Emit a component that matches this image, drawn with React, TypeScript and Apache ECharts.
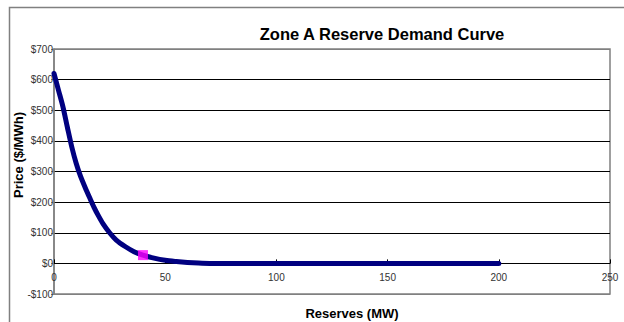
import React, { useEffect, useRef } from "react";
import * as echarts from "echarts";

const chartTitle = "Zone A Reserve Demand Curve";
const xAxisTitle = "Reserves (MW)";
const yAxisTitle = "Price ($/MWh)";

const reserves = [0, 2, 4, 6, 8, 10, 12, 14, 16, 18, 20, 22, 25, 28, 32, 36, 40, 45, 50, 55, 60, 65, 70, 80, 100, 150, 200];
const prices = [620, 566, 512, 445, 380, 326, 283, 248, 215, 183, 155, 130, 100, 76, 55, 38, 27, 17, 10, 6, 3, 1, 0, 0, 0, 0, 0];

const markerReserves = [40];
const markerPrices = [27];

const xMin = 0;
const xMax = 250;
const xStep = 50;
const yMin = -100;
const yMax = 700;
const yStep = 100;

const FONT = "'Liberation Sans', Arial, sans-serif";

// plot area in pixels
const PLOT = { left: 54, right: 14, top: 49, bottom: 28 };
const CHART_H = 322;

export default function App() {
  const ref = useRef<HTMLDivElement>(null);

  useEffect(() => {
    if (!ref.current) return;
    const chart = echarts.init(ref.current, undefined, { renderer: "svg" });
    const curve = reserves.map((r, i) => [r, prices[i]]);
    const marker = markerReserves.map((r, i) => [r, markerPrices[i]]);
    const nLines = (yMax - yMin) / yStep + 1;
    const splitColors = Array.from({ length: nLines }, (_, i) =>
      i === 0 || i === nLines - 1 ? "#808080" : "#000000"
    );
    // second grid whose bottom edge sits on the price = 0 line, to carry the x axis there
    const plotH = CHART_H - PLOT.top - PLOT.bottom;
    const zeroFromBottom = PLOT.bottom + (plotH * (0 - yMin)) / (yMax - yMin);

    chart.setOption({
      animation: false,
      backgroundColor: "#ffffff",
      textStyle: { fontFamily: FONT },
      title: {
        text: chartTitle,
        left: 377,
        top: 20,
        textAlign: "center",
        textStyle: { fontFamily: FONT, fontSize: 16.5, fontWeight: "bold", color: "#000" },
      },
      grid: [
        {
          left: PLOT.left,
          right: PLOT.right,
          top: PLOT.top,
          bottom: PLOT.bottom,
          show: true,
          borderColor: "#808080",
          borderWidth: 1.5,
          backgroundColor: "transparent",
        },
        {
          left: PLOT.left,
          right: PLOT.right,
          top: PLOT.top,
          bottom: zeroFromBottom,
          show: false,
        },
      ],
      xAxis: [
        {
          type: "value",
          gridIndex: 0,
          min: xMin,
          max: xMax,
          interval: xStep,
          show: false,
        },
        {
          type: "value",
          gridIndex: 1,
          min: xMin,
          max: xMax,
          interval: xStep,
          position: "bottom",
          axisLine: { show: true, onZero: false, lineStyle: { color: "#000", width: 1 } },
          axisTick: { show: true, inside: true, length: 4, lineStyle: { color: "#000" } },
          axisLabel: { fontFamily: FONT, fontSize: 10, color: "#333", margin: 9 },
          splitLine: { show: false },
        },
      ],
      yAxis: [
        {
          type: "value",
          gridIndex: 0,
          min: yMin,
          max: yMax,
          interval: yStep,
          axisLine: { show: true, onZero: false, lineStyle: { color: "#808080", width: 1.5 } },
          axisTick: { show: true, length: 3, lineStyle: { color: "#808080" } },
          axisLabel: {
            fontFamily: FONT,
            fontSize: 10,
            color: "#333",
            margin: 1,
            formatter: (v: number) => (v < 0 ? "-$" + -v : "$" + v),
          },
          splitLine: { show: true, lineStyle: { color: splitColors, width: 1 } },
        },
        {
          type: "value",
          gridIndex: 1,
          min: 0,
          max: yMax,
          show: false,
        },
      ],
      graphic: [
        {
          type: "rect",
          silent: true,
          shape: { x: 9.5, y: 7.5, width: 800, height: 400 },
          style: { fill: "none", stroke: "#808080", lineWidth: 1.5 },
        },
        {
          type: "text",
          x: 18,
          y: 155,
          rotation: Math.PI / 2,
          style: {
            text: yAxisTitle,
            font: "bold 13px " + FONT,
            fill: "#000",
            textAlign: "center",
            textVerticalAlign: "middle",
          },
        },
        {
          type: "text",
          x: 352,
          y: 313,
          style: {
            text: xAxisTitle,
            font: "bold 13px " + FONT,
            fill: "#000",
            textAlign: "center",
            textVerticalAlign: "middle",
          },
        },
      ],
      series: [
        {
          type: "line",
          xAxisIndex: 0,
          yAxisIndex: 0,
          data: curve,
          smooth: 0.3,
          showSymbol: false,
          symbol: "none",
          lineStyle: { color: "#000080", width: 5, cap: "round", join: "round" },
          z: 3,
        },
        {
          type: "scatter",
          xAxisIndex: 0,
          yAxisIndex: 0,
          data: marker,
          symbol: "rect",
          symbolSize: 10,
          itemStyle: { color: "#FF00FF" },
          z: 4,
        },
      ],
    });
    return () => chart.dispose();
  }, []);

  return (
    <div
      ref={ref}
      style={{ position: "fixed", left: 0, top: 0, width: 624, height: 322 }}
    />
  );
}
